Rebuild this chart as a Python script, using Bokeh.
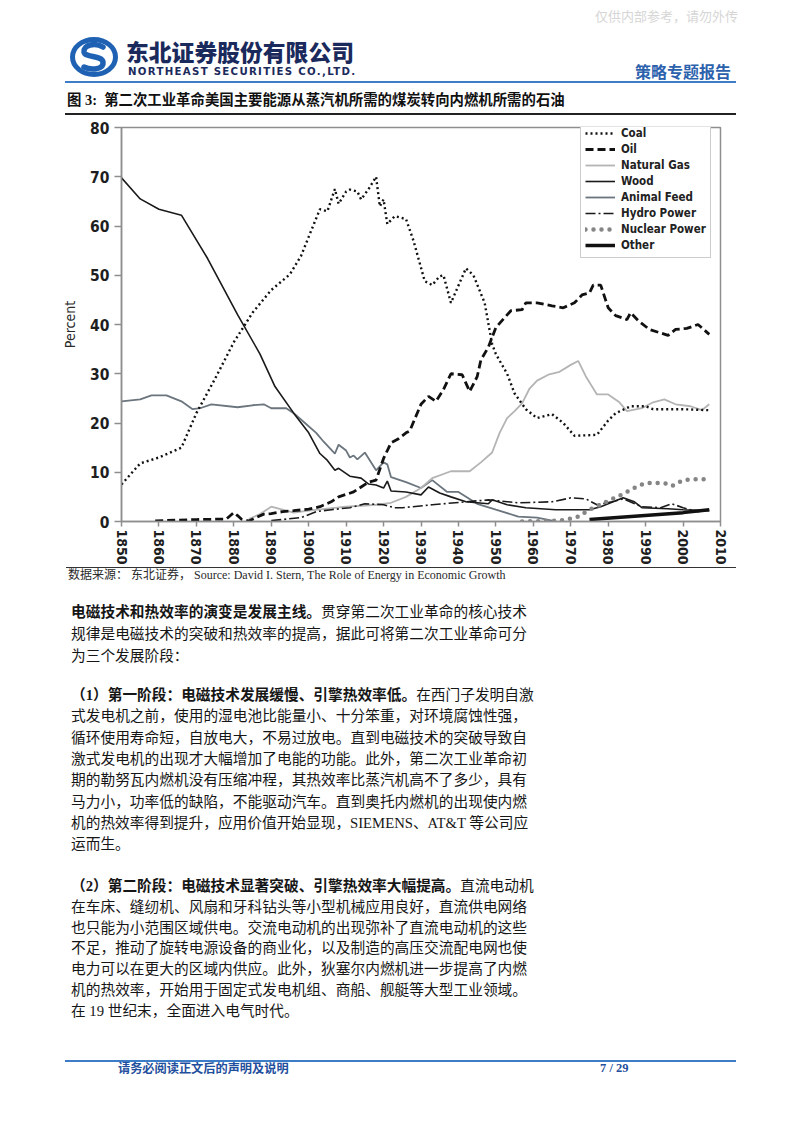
from bokeh.plotting import figure
from bokeh.models import Div, Legend, LegendItem, FixedTicker, Range1d
from bokeh.layouts import column
from bokeh.embed import file_html
from bokeh.resources import INLINE

# ---------------- data ----------------
coal_year = [1850, 1855, 1860, 1866, 1870, 1875, 1880, 1885, 1890, 1895, 1898, 1900, 1903, 1905,
             1907, 1908, 1910, 1911, 1913, 1914, 1916, 1918, 1919, 1920, 1921, 1923, 1926, 1928,
             1931, 1933, 1935, 1936, 1938, 1942, 1944, 1947, 1949, 1950, 1953, 1955, 1958, 1961,
             1965, 1968, 1971, 1977, 1980, 1982, 1986, 1990, 1992, 2000, 2007]
coal_pct = [7.5, 11.8, 13.0, 15.0, 22.0, 29.0, 36.4, 42.4, 47.0, 50.2, 54.0, 57.8, 63.4, 63.0,
            67.5, 64.5, 67.0, 67.4, 67.0, 65.4, 67.5, 70.0, 64.0, 65.4, 60.4, 62.0, 61.4, 57.0,
            48.8, 48.0, 49.8, 50.0, 44.4, 51.4, 50.0, 44.4, 36.0, 34.0, 30.0, 26.0, 22.8, 21.0,
            21.8, 20.0, 17.4, 17.6, 20.5, 22.0, 23.4, 23.4, 22.8, 22.8, 22.6]

oil_year = [1859, 1862, 1870, 1878, 1880, 1881, 1882, 1884, 1886, 1888, 1890, 1893, 1896, 1900,
            1903, 1906, 1908, 1910, 1912, 1914, 1916, 1918, 1920, 1922, 1924, 1926, 1927, 1930,
            1932, 1934, 1936, 1938, 1941, 1943, 1945, 1946, 1948, 1950, 1954, 1957, 1958, 1961,
            1965, 1968, 1971, 1973, 1975, 1976, 1978, 1980, 1982, 1985, 1986, 1988, 1991, 1996,
            1998, 2001, 2004, 2007]
oil_pct = [0.1, 0.2, 0.4, 0.5, 1.8, 1.2, 0.5, 0.1, 0.8, 1.5, 1.6, 2.0, 2.2, 2.5,
           3.0, 4.0, 5.0, 5.5, 6.0, 7.0, 8.0, 8.4, 12.8, 16.0, 16.8, 18.0, 18.4, 23.8,
           25.4, 24.4, 26.8, 30.0, 29.8, 26.4, 29.4, 32.8, 35.4, 39.4, 42.8, 43.0, 44.4, 44.4,
           43.8, 43.4, 44.4, 46.0, 46.4, 48.0, 48.0, 43.4, 41.8, 41.0, 42.4, 40.8, 39.0, 37.8,
           39.0, 39.2, 40.0, 38.0]

gas_year = [1884, 1887, 1890, 1893, 1896, 1900, 1905, 1910, 1914, 1918, 1922, 1926, 1930, 1933,
            1938, 1943, 1946, 1949, 1951, 1953, 1955, 1957, 1959, 1961, 1964, 1967, 1970, 1972,
            1974, 1977, 1980, 1983, 1985, 1989, 1992, 1995, 1998, 2002, 2005, 2007]
gas_pct = [0.5, 1.5, 3.0, 2.4, 1.8, 2.2, 2.6, 3.0, 3.2, 3.4, 3.8, 5.0, 6.8, 8.8,
           10.2, 10.2, 12.0, 14.0, 18.0, 21.0, 22.4, 24.0, 27.0, 28.6, 29.8, 30.4, 31.8, 32.6,
           29.5, 25.8, 25.8, 24.2, 22.4, 23.0, 24.2, 24.8, 23.8, 23.4, 22.6, 23.8]

wood_year = [1850, 1855, 1860, 1866, 1873, 1881, 1887, 1891, 1896, 1900, 1903, 1905, 1907, 1908,
             1911, 1914, 1916, 1918, 1920, 1921, 1922, 1926, 1930, 1932, 1935, 1938, 1942, 1948,
             1949, 1953, 1958, 1966, 1975, 1978, 1984, 1987, 1989, 1996, 2000, 2007]
wood_pct = [69.8, 65.5, 63.4, 62.2, 53.4, 42.0, 34.0, 27.4, 22.0, 18.0, 13.8, 12.4, 10.4, 10.8,
            9.2, 8.8, 7.6, 7.4, 6.8, 8.2, 6.2, 6.0, 5.4, 7.0, 5.8, 5.0, 4.0, 3.6,
            4.4, 3.4, 2.8, 2.4, 2.4, 3.0, 4.8, 4.0, 2.8, 2.6, 2.4, 2.2]

feed_year = [1850, 1855, 1858, 1862, 1866, 1869, 1871, 1874, 1881, 1885, 1888, 1890, 1894, 1896,
             1899, 1902, 1904, 1907, 1908, 1910, 1911, 1912, 1913, 1915, 1918, 1920, 1921, 1922,
             1926, 1930, 1933, 1937, 1940, 1945, 1950, 1956, 1961, 1965]
feed_pct = [24.4, 24.8, 25.6, 25.6, 24.4, 22.8, 23.0, 23.8, 23.2, 23.6, 23.8, 23.0, 23.0, 22.0,
            20.0, 18.0, 16.2, 13.8, 15.6, 14.4, 13.0, 13.4, 12.6, 14.0, 10.4, 12.0, 11.6, 9.0,
            8.0, 6.8, 8.4, 6.0, 6.0, 3.6, 2.4, 1.0, 0.8, 0.2]

hydro_year = [1890, 1893, 1898, 1902, 1906, 1911, 1915, 1920, 1923, 1925, 1933, 1942, 1948, 1956,
              1965, 1970, 1974, 1977, 1981, 1984, 1989, 1994, 1997, 2000, 2004, 2007]
hydro_pct = [0.2, 0.4, 0.8, 2.0, 2.4, 2.8, 3.6, 3.4, 2.8, 2.8, 3.4, 4.0, 4.4, 3.8,
             4.0, 4.8, 4.6, 3.4, 4.0, 4.6, 3.0, 2.8, 3.6, 2.8, 2.0, 2.4]

nuclear_year = [1957, 1965, 1968, 1970, 1972, 1975, 1978, 1980, 1983, 1985, 1988, 1990, 1995,
                1997, 2000, 2004, 2007]
nuclear_pct = [0.0, 0.1, 0.3, 0.6, 1.0, 2.4, 3.4, 4.2, 5.2, 6.0, 7.2, 7.8, 7.8,
               7.2, 8.4, 8.6, 8.6]

other_year = [1975, 2000, 2007]
other_pct = [0.4, 1.8, 2.4]

x_ticks = list(range(1850, 2011, 10))
y_ticks = list(range(0, 81, 10))

series_names = ["Coal", "Oil", "Natural Gas", "Wood", "Animal Feed", "Hydro Power",
                "Nuclear Power", "Other"]

# ---------------- styles ----------------
NARROW = "'DejaVu Sans Condensed', 'Liberation Sans Narrow', 'Liberation Sans'"
GREY = "#8e8e8e"

p = figure(width=802, height=449, output_backend="svg", toolbar_location=None,
           x_range=Range1d(1850, 2010), y_range=Range1d(0, 80),
           min_border_left=121, min_border_right=82, min_border_top=9, min_border_bottom=40,
           background_fill_color="white", border_fill_color="white")
p.outline_line_color = GREY
p.outline_line_width = 1.5
p.grid.visible = False

p.xaxis.ticker = FixedTicker(ticks=x_ticks)
p.yaxis.ticker = FixedTicker(ticks=y_ticks)
for ax in (p.xaxis[0], p.yaxis[0]):
    ax.axis_line_color = GREY
    ax.axis_line_width = 1.5
    ax.major_tick_line_color = GREY
    ax.major_tick_line_width = 1.5
    ax.minor_tick_line_color = None
    ax.major_tick_in = 0
    ax.major_label_text_font = NARROW
    ax.major_label_text_font_style = "bold"
    ax.major_label_text_color = "#1e1e1e"
p.yaxis.major_label_text_font_size = "15.5px"
p.xaxis.major_label_text_font_size = "14px"
p.yaxis.major_tick_out = 7
p.yaxis.major_label_standoff = 5
p.xaxis.major_tick_out = 5
p.xaxis.major_label_standoff = 3
p.xaxis.major_label_orientation = "vertical"
p.yaxis.axis_label = "Percent"
p.yaxis.axis_label_text_font = NARROW
p.yaxis.axis_label_text_font_style = "normal"
p.yaxis.axis_label_text_font_size = "14px"
p.yaxis.axis_label_text_color = "#2a2a2a"
p.yaxis.axis_label_standoff = 9

r_feed = p.line(feed_year, feed_pct, line_color="#6b757e", line_width=1.8)
r_gas = p.line(gas_year, gas_pct, line_color="#b4b4b4", line_width=1.8)
r_wood = p.line(wood_year, wood_pct, line_color="#1a1a1a", line_width=1.6)
r_hydro = p.line(hydro_year, hydro_pct, line_color="#1a1a1a", line_width=1.6, line_dash="10 3 2 3")
r_nuc = p.line(nuclear_year, nuclear_pct, line_color="#858585", line_width=4.5,
               line_dash="0 8", line_cap="round")
r_other = p.line(other_year, other_pct, line_color="#111111", line_width=3.5)
r_oil = p.line(oil_year, oil_pct, line_color="#111111", line_width=2.8, line_dash="8 4")
r_coal = p.line(coal_year, coal_pct, line_color="#111111", line_width=2.4, line_dash="2 3")

renderers = [r_coal, r_oil, r_gas, r_wood, r_feed, r_hydro, r_nuc, r_other]
legend = Legend(items=[LegendItem(label=n, renderers=[r]) for n, r in zip(series_names, renderers)],
                location=(459, 263), orientation="vertical",
                glyph_width=30, glyph_height=16, label_height=16, spacing=0,
                label_standoff=6, padding=4, margin=0,
                label_text_font=NARROW, label_text_font_style="bold",
                label_text_font_size="11.5px", label_text_color="#222222",
                border_line_color="#9a9a9a", border_line_width=1.5,
                background_fill_color="white", background_fill_alpha=1.0)
p.add_layout(legend)

# ---------------- page text ----------------
CJK = "'Noto Sans CJK SC'"
SERIF = "'Liberation Serif', 'Noto Sans CJK SC'"

def box(left, cy, h, inner, extra=""):
    return (f'<div style="position:absolute;left:{left}px;top:{cy - h / 2}px;height:{h}px;'
            f'line-height:{h}px;white-space:nowrap;{extra}">{inner}</div>')

logo_svg = (
    '<svg style="position:absolute;left:70px;top:37px" width="48" height="40" viewBox="0 0 48 40">'
    '<ellipse cx="24" cy="20" rx="21.5" ry="17.5" fill="none" stroke="#1f62b3" stroke-width="5"/>'
    '<path d="M33 10 C25 5 13 8 14 15 C15 21 32 18 33 25 C34 32 22 34 14 30" fill="none" '
    'stroke="#1f62b3" stroke-width="5.5" stroke-linecap="round"/>'
    '</svg>')

header_html = (
    '<div style="position:relative;width:802px;height:118px;background:#fff;overflow:hidden;">'
    + box(595, 16, 18, "仅供内部参考，请勿外传", f"font-family:{CJK};font-size:13px;color:#d6d6d6;")
    + logo_svg
    + box(126, 52, 28, "东北证券股份有限公司",
          f"font-family:{CJK};font-size:22.8px;font-weight:900;color:#1b2a5c;")
    + box(128, 72, 12, "NORTHEAST SECURITIES CO.,LTD.",
          "font-family:'DejaVu Sans';font-size:10.2px;font-weight:bold;color:#1b2a5c;letter-spacing:1.3px;")
    + box(635, 71, 20, "策略专题报告", f"font-family:{CJK};font-size:16px;font-weight:bold;color:#2c62ad;")
    + '<div style="position:absolute;left:65px;top:81px;width:671px;height:2px;background:#3d7cc6;"></div>'
    + box(67, 100, 20, "图 3:&nbsp;&nbsp;第二次工业革命美国主要能源从蒸汽机所需的煤炭转向内燃机所需的石油",
          f"font-family:{SERIF};font-size:14.4px;font-weight:bold;color:#111;")
    + '<div style="position:absolute;left:65px;top:113px;width:671px;height:1.5px;background:#222;"></div>'
    + '</div>')
header = Div(text=header_html, width=802, height=118, margin=0)

TOP = 567  # page y where the lower block starts

para1 = [
    ("<b>电磁技术和热效率的演变是发展主线。</b>贯穿第二次工业革命的核心技术", True),
    ("规律是电磁技术的突破和热效率的提高，据此可将第二次工业革命可分", True),
    ("为三个发展阶段：", False),
]
para2 = [
    ("<b>（1）第一阶段：电磁技术发展缓慢、引擎热效率低。</b>在西门子发明自激", True),
    ("式发电机之前，使用的湿电池比能量小、十分笨重，对环境腐蚀性强，", True),
    ("循环使用寿命短，自放电大，不易过放电。直到电磁技术的突破导致自", True),
    ("激式发电机的出现才大幅增加了电能的功能。此外，第二次工业革命初", True),
    ("期的勒努瓦内燃机没有压缩冲程，其热效率比蒸汽机高不了多少，具有", True),
    ("马力小，功率低的缺陷，不能驱动汽车。直到奥托内燃机的出现使内燃", True),
    ("机的热效率得到提升，应用价值开始显现，SIEMENS、AT&amp;T 等公司应", True),
    ("运而生。", False),
]
para3 = [
    ("<b>（2）第二阶段：电磁技术显著突破、引擎热效率大幅提高。</b>直流电动机", True),
    ("在车床、缝纫机、风扇和牙科钻头等小型机械应用良好，直流供电网络", True),
    ("也只能为小范围区域供电。交流电动机的出现弥补了直流电动机的这些", True),
    ("不足，推动了旋转电源设备的商业化，以及制造的高压交流配电网也使", True),
    ("电力可以在更大的区域内供应。此外，狄塞尔内燃机进一步提高了内燃", True),
    ("机的热效率，开始用于固定式发电机组、商船、舰艇等大型工业领域。", True),
    ("在 19 世纪末，全面进入电气时代。", False),
]

def para_html(lines, first_cy, step):
    out = ""
    for i, (txt, full) in enumerate(lines):
        cy = first_cy + i * step - TOP
        align = "text-align:justify;text-align-last:justify;" if full else "text-align:left;"
        out += box(71, cy, 22, txt,
                   f"width:456px;font-family:{SERIF};font-size:14.7px;color:#161616;{align}")
    return out

body_html = (
    '<div style="position:relative;width:802px;height:566px;background:#fff;overflow:hidden;">'
    + '<div style="position:absolute;left:66px;top:0px;width:670px;height:1px;background:#333;"></div>'
    + box(68, 575 - TOP, 16,
          "数据来源：&nbsp;东北证券，&nbsp;Source: David I. Stern, The Role of Energy in Economic Growth",
          f"font-family:{SERIF};font-size:12px;color:#2a2a2a;")
    + para_html(para1, 612, 22.0)
    + para_html(para2, 695, 21.3)
    + para_html(para3, 886, 20.8)
    + '<div style="position:absolute;left:65px;top:' + str(1060 - TOP) + 'px;width:671px;height:1.5px;background:#3d7cc6;"></div>'
    + box(118, 1068 - TOP, 16, "请务必阅读正文后的声明及说明",
          f"font-family:{CJK};font-size:12.2px;font-weight:bold;color:#1f4f9d;")
    + box(600, 1068 - TOP, 16, "7 / 29",
          "font-family:'Liberation Serif';font-size:12.5px;font-weight:bold;color:#1f4f9d;")
    + '</div>')
body = Div(text=body_html, width=802, height=566, margin=0)

page = column(header, p, body, spacing=0)
open("out.html", "w").write(file_html(page, INLINE))
